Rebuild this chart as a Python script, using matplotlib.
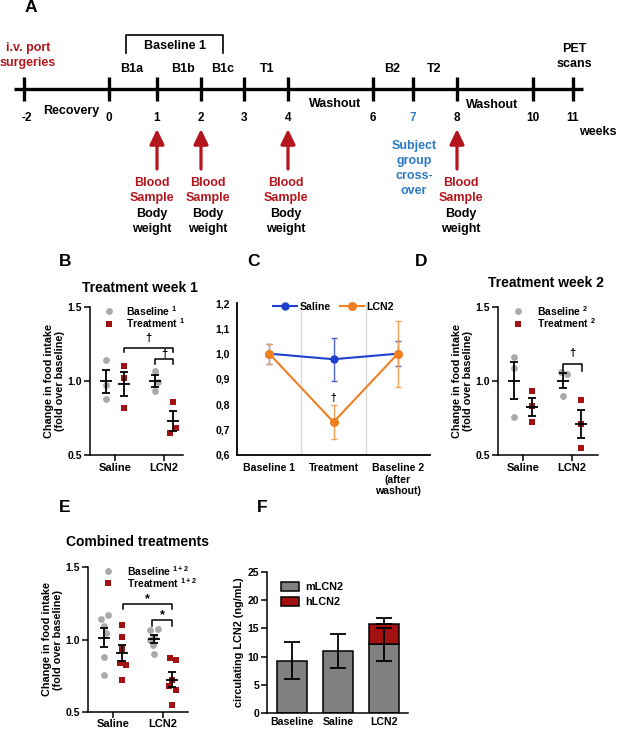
import numpy as np
import matplotlib.pyplot as plt
from matplotlib.lines import Line2D
from matplotlib.patches import Patch
from matplotlib.ticker import FuncFormatter

plt.rcParams['font.family'] = ['Liberation Sans', 'DejaVu Sans']
plt.rcParams['font.weight'] = 'bold'
plt.rcParams['axes.labelweight'] = 'bold'
plt.rcParams['mathtext.fontset'] = 'custom'
plt.rcParams['mathtext.rm'] = 'Liberation Sans:bold'
plt.rcParams['mathtext.it'] = 'Liberation Sans:bold'
plt.rcParams['mathtext.bf'] = 'Liberation Sans:bold'
plt.rcParams['axes.linewidth'] = 1.1

W, H = 617, 729
RED = '#B5161D'
DARK_RED = '#A31212'
GREY = '#A9A9A9'
BLUE_TXT = '#2A7BC4'
BLUE = '#1F3FCC'
ORANGE = '#F07F22'

# ── Data ──────────────────────────────────────────────────────
weeks = [-2, 0, 1, 2, 3, 4, 6, 7, 8, 10, 11]
phases = ["B1a", "B1b", "B1c", "T1", "B2", "T2"]
blood_weeks = [1, 2, 4, 8]
crossover_week = 7

groups = ["Saline", "LCN2"]
b_base = [[1.14, 0.97, 0.88], [1.07, 0.99, 0.93]]
b_treat = [[1.10, 1.02, 0.82], [0.86, 0.65, 0.68]]
d_base = [[1.16, 1.09, 0.76], [1.06, 1.05, 0.90]]
d_treat = [[0.93, 0.83, 0.72], [0.87, 0.71, 0.55]]
e_base = [[1.14, 1.17, 1.09, 1.045, 0.88, 0.755],
          [1.065, 1.07, 1.02, 0.96, 0.90, 0.995]]
e_treat = [[1.10, 1.02, 0.935, 0.835, 0.825, 0.72],
           [0.87, 0.86, 0.72, 0.68, 0.65, 0.55]]

c_periods = ["Baseline 1", "Treatment", "Baseline 2\n(after\nwashout)"]
c_saline = [1.0, 0.978, 1.0]
c_saline_err = [0.04, 0.085, 0.05]
c_lcn2 = [1.0, 0.73, 1.0]
c_lcn2_err = [0.04, 0.068, 0.13]

f_groups = ["Baseline", "Saline", "LCN2"]
f_mouse = [9.3, 11.05, 12.2]
f_mouse_err = [3.25, 3.0, 2.9]
f_human = [0, 0, 3.6]
f_human_err = [0, 0, 1.1]

# ── Layout helpers ────────────────────────────────────────────
fig = plt.figure(figsize=(W / 100, H / 100), dpi=100)


def px_axes(left, top, right, bottom):
    return fig.add_axes([left / W, 1 - bottom / H, (right - left) / W, (bottom - top) / H])


def ftext(x, y, s, **kw):
    kw.setdefault('ha', 'center')
    kw.setdefault('va', 'center')
    fig.text(x / W, 1 - y / H, s, **kw)


# ── Panel A: timeline ─────────────────────────────────────────
axA = fig.add_axes([0, 0, 1, 1])
axA.set_xlim(0, W)
axA.set_ylim(H, 0)
axA.axis('off')
axA.patch.set_alpha(0)

week_x = dict(zip(weeks, [24, 109, 157, 201, 244, 288, 373, 413, 457, 533, 573]))
phase_x = [132, 183, 223, 267, 392, 434]

axA.plot([14, 583], [89, 89], color='k', lw=2.4, solid_capstyle='butt')
axA.vlines(list(week_x.values()), 77, 101, color='k', lw=2.4)
for w in weeks:
    col = BLUE_TXT if w == crossover_week else 'k'
    dx = 3 if w < 0 else 0
    axA.text(week_x[w] + dx, 118, str(w), ha='center', va='center', fontsize=8.5, color=col)
for p, x in zip(phases, phase_x):
    axA.text(x, 69, p, ha='center', va='center', fontsize=9)

axA.plot([126, 126, 223, 223], [53, 35, 35, 53], color='k', lw=1.2)
axA.text(175, 46, "Baseline 1", ha='center', va='center', fontsize=9)
axA.text(28, 48, "i.v. port", ha='center', va='center', fontsize=9, color=RED)
axA.text(28, 63, "surgeries", ha='center', va='center', fontsize=9, color=RED)
axA.text(574, 49, "PET", ha='center', va='center', fontsize=9)
axA.text(574, 64, "scans", ha='center', va='center', fontsize=9)
axA.text(71, 111, "Recovery", ha='center', va='center', fontsize=9)
axA.text(335, 104, "Washout", ha='center', va='center', fontsize=9)
axA.text(492, 105, "Washout", ha='center', va='center', fontsize=9)
axA.text(598, 132, "weeks", ha='center', va='center', fontsize=9)

for w, tx in zip(blood_weeks, [152, 208, 286, 461]):
    x = week_x[w]
    axA.annotate('', xy=(x, 129), xytext=(x, 169),
                 arrowprops=dict(arrowstyle='-|>,head_width=0.36,head_length=0.75',
                                 color=RED, lw=2.3, mutation_scale=12, shrinkA=0, shrinkB=0))
    for line, yy, col in [("Blood", 183, RED), ("Sample", 198, RED),
                          ("Body", 214, 'k'), ("weight", 229, 'k')]:
        axA.text(tx, yy, line, ha='center', va='center', fontsize=9, color=col)

for line, yy in zip(["Subject", "group", "cross-", "over"], [146, 161, 176, 191]):
    axA.text(week_x[crossover_week] + 1, yy, line, ha='center', va='center',
             fontsize=9, color=BLUE_TXT)

# ── Panel letters and titles ──────────────────────────────────
for s, x, y in [("A", 31, 8), ("B", 65, 261), ("C", 253, 261), ("D", 421, 261),
                ("E", 65, 508), ("F", 262, 508)]:
    ftext(x, y, s, fontsize=12.5)
ftext(140, 288, "Treatment week 1", fontsize=10)
ftext(546, 283, "Treatment week 2", fontsize=10)
ftext(138, 542, "Combined treatments", fontsize=10)


# ── Dot plots (B, D, E) ───────────────────────────────────────
def dot_panel(ax, base, treat, jit_b, jit_t, xlim, leg_sup, xpad=2):
    ax.set_xlim(*xlim)
    ax.set_ylim(0.5, 1.5)
    for i in range(2):
        for vals, jit, off, kind in [(base[i], jit_b[i], -0.18, 'b'),
                                     (treat[i], jit_t[i], 0.18, 't')]:
            v = np.array(vals)
            xs = i + off + np.array(jit)
            if kind == 'b':
                ax.scatter(xs, v, s=24, color=GREY, marker='o', lw=0, zorder=2)
            else:
                ax.scatter(xs, v, s=22, color=DARK_RED, marker='s', lw=0, zorder=2)
            m = v.mean()
            sem = v.std(ddof=1) / np.sqrt(len(v))
            ax.hlines(m, i + off - 0.12, i + off + 0.12, color='k', lw=1.3, zorder=3)
            ax.errorbar(i + off, m, yerr=sem, fmt='none', ecolor='k',
                        elinewidth=1.3, capsize=2.6, capthick=1.3, zorder=3)
    ax.set_xticks([0, 1])
    ax.set_xticklabels(groups, fontsize=8)
    ax.set_yticks([0.5, 1.0, 1.5])
    ax.yaxis.set_major_formatter(FuncFormatter(lambda v, p: f"{v:.1f}"))
    ax.tick_params(axis='y', labelsize=7.5, length=4, width=1.1, pad=1.5)
    ax.tick_params(axis='x', length=4, width=1.1, pad=xpad)
    for sp in ['top', 'right']:
        ax.spines[sp].set_visible(False)
    ax.set_ylabel("Change in food intake\n(fold over baseline)", fontsize=7.8,
                  labelpad=2, linespacing=1.1)
    # legend drawn in axes fraction
    lx = 0.2
    ax.scatter([lx], [0.975], s=24, color=GREY, marker='o', lw=0,
               transform=ax.transAxes, clip_on=False)
    ax.scatter([lx], [0.888], s=22, color=DARK_RED, marker='s', lw=0,
               transform=ax.transAxes, clip_on=False)
    ax.text(lx + 0.19, 0.975, f"Baseline $^{{{leg_sup}}}$", transform=ax.transAxes,
            fontsize=7.5, va='center')
    ax.text(lx + 0.19, 0.888, f"Treatment $^{{{leg_sup}}}$", transform=ax.transAxes,
            fontsize=7.5, va='center')


def bracket(ax, x0, x1, y, drop, mark, ty, fs=8):
    ax.plot([x0, x0, x1, x1], [y - drop, y, y, y - drop], color='k', lw=1.1)
    ax.text((x0 + x1) / 2, ty, mark, ha='center', va='center', fontsize=fs)


axB = px_axes(90, 307, 183, 455)
dot_panel(axB, b_base, b_treat,
          [[0, 0, 0], [0, 0.05, 0]], [[0, 0, 0], [0, -0.06, 0.06]],
          (-0.51, 1.39), "1")
bracket(axB, 0.18, 1.18, 1.225, 0.03, "†", 1.29)
bracket(axB, 0.82, 1.18, 1.15, 0.035, "†", 1.185)

axD = px_axes(498, 307, 598, 455)
dot_panel(axD, d_base, d_treat,
          [[0, 0, 0], [-0.04, 0.08, 0]], [[0, 0, 0], [0, 0, 0]],
          (-0.51, 1.53), "2")
bracket(axD, 0.82, 1.2, 1.115, 0.045, "†", 1.19)

axE = px_axes(88, 567, 188, 712)
dot_panel(axE, e_base, e_treat,
          [[-0.07, 0.07, 0, 0.04, 0, 0], [-0.08, 0.07, 0, -0.03, 0, -0.08]],
          [[0, 0, 0, -0.05, 0.07, 0], [-0.05, 0.07, 0, -0.07, 0.07, 0]],
          (-0.5, 1.5), "1+2", xpad=0.8)
bracket(axE, 0.2, 1.18, 1.245, 0.035, "*", 1.28, fs=9)
bracket(axE, 0.78, 1.18, 1.136, 0.04, "*", 1.17, fs=9)

# ── Panel C: line plot ────────────────────────────────────────
axC = px_axes(237, 303, 430, 455)
xc = np.arange(len(c_periods)) + 0.5
axC.set_xlim(0, 3)
axC.set_ylim(0.6, 1.2)
for gx in [1, 2]:
    axC.axvline(gx, color='#D9D9D9', lw=1, zorder=0)
axC.errorbar(xc, c_saline, yerr=c_saline_err, color=BLUE, ecolor='#4D63D6', marker='o',
             ms=5, lw=1.5, elinewidth=1, capsize=2.5, capthick=1, zorder=3)
axC.errorbar(xc, c_lcn2, yerr=c_lcn2_err, color=ORANGE, ecolor='#F4A05A', marker='o',
             ms=5.5, lw=1.5, elinewidth=1, capsize=2.5, capthick=1, zorder=4)
axC.text(1.5, 0.825, "†", ha='center', va='center', fontsize=7.5)
axC.set_xticks(xc)
axC.set_xticklabels(c_periods, fontsize=7.6, linespacing=1.15, va='top')
axC.set_yticks(np.arange(0.6, 1.21, 0.1))
axC.yaxis.set_major_formatter(FuncFormatter(lambda v, p: f"{v:.1f}".replace('.', ',')))
axC.tick_params(axis='y', labelsize=7.5, length=0, pad=5)
axC.tick_params(axis='x', length=0, pad=6)
for sp in ['top', 'right']:
    axC.spines[sp].set_visible(False)
axC.spines['left'].set_linewidth(1.3)
axC.spines['bottom'].set_linewidth(1.3)
axC.legend(handles=[Line2D([0], [0], color=BLUE, marker='o', ms=5, lw=1.5, label="Saline"),
                    Line2D([0], [0], color=ORANGE, marker='o', ms=5.5, lw=1.5, label="LCN2")],
           loc='upper center', bbox_to_anchor=(0.5, 1.07), ncol=2, frameon=False,
           fontsize=7.6, handlelength=2.3, columnspacing=0.9, handletextpad=0.2)

# ── Panel F: stacked bars ─────────────────────────────────────
axF = px_axes(267, 572, 408, 713)
xf = np.arange(len(f_groups))
axF.bar(xf, f_mouse, width=0.65, color='#808080', edgecolor='k', lw=1.1)
axF.bar(xf[2:], f_human[2:], bottom=f_mouse[2:], width=0.65, color=DARK_RED,
        edgecolor='k', lw=1.1)
axF.errorbar(xf, f_mouse, yerr=f_mouse_err, fmt='none', ecolor='k', elinewidth=1.3,
             capsize=6, capthick=1.3)
top = np.array(f_mouse) + np.array(f_human)
axF.errorbar(xf[2:], top[2:], yerr=[[0], f_human_err[2:]], fmt='none', ecolor='k',
             elinewidth=1.3, capsize=6, capthick=1.3)
axF.set_xlim(-0.55, 2.52)
axF.set_ylim(0, 25)
axF.set_yticks(range(0, 26, 5))
axF.set_xticks(xf)
axF.set_xticklabels(f_groups, fontsize=7.6)
axF.tick_params(axis='y', labelsize=7.5, length=4, width=1.1, pad=1.5)
axF.tick_params(axis='x', length=0, pad=3)
for sp in ['top', 'right']:
    axF.spines[sp].set_visible(False)
axF.set_ylabel("circulating LCN2 (ng/mL)", fontsize=7.8, labelpad=3)
axF.legend(handles=[Patch(facecolor='#808080', edgecolor='k', lw=1.1, label="mLCN2"),
                    Patch(facecolor=DARK_RED, edgecolor='k', lw=1.1, label="hLCN2")],
           loc='upper left', bbox_to_anchor=(0.03, 1.0), frameon=False, fontsize=7.8,
           handlelength=1.7, handleheight=0.9, labelspacing=0.45, handletextpad=0.5)

fig.savefig("out.png", dpi=100)
